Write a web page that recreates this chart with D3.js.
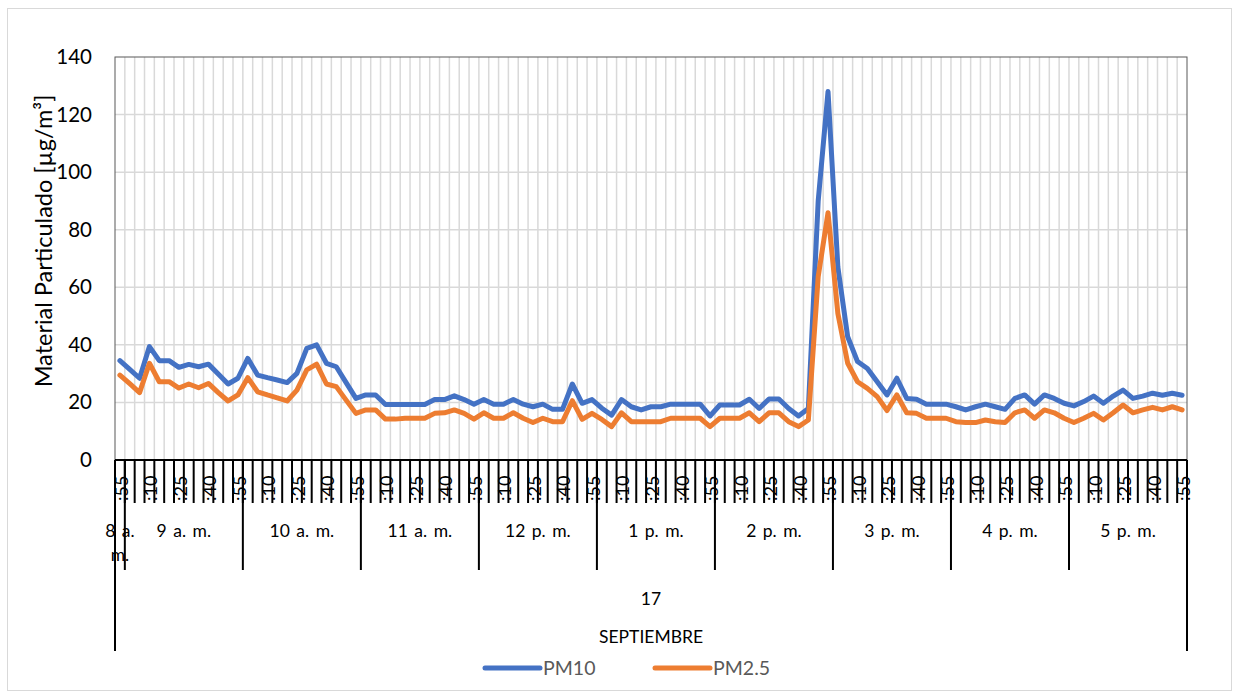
<!DOCTYPE html>
<html>
<head>
<meta charset="utf-8">
<script src="https://cdn.jsdelivr.net/npm/d3@7/dist/d3.min.js"></script>
<style>
  html, body { margin: 0; padding: 0; background: #fff; }
  svg { display: block; font-family: Lato, "Open Sans", sans-serif; }
</style>
</head>
<body>
<svg id="chart" width="1239" height="696"></svg>
<script>
// Hour groups of the category axis and how many 5-minute readings each holds
const hourLabels = ["8 a. m.", "9 a. m.", "10 a. m.", "11 a. m.", "12 p. m.", "1 p. m.", "2 p. m.", "3 p. m.", "4 p. m.", "5 p. m."];
const hourCounts = [1, 12, 12, 12, 12, 12, 12, 12, 12, 12];
const hourStartMinute = [55, 0, 0, 0, 0, 0, 0, 0, 0, 0];
const dayLabel = "17";
const monthLabel = "SEPTIEMBRE";
const yTicks = [0, 20, 40, 60, 80, 100, 120, 140];

// PM10 readings, µg/m³, 8:55 to 17:55
const pm10 = [
  34.5, 31.5, 28.4, 39.4, 34.5, 34.5, 32.2, 33.2, 32.4, 33.3, 29.9, 26.4, 28.4,
  35.3, 29.5, 28.6, 27.8, 26.9, 30.1, 38.8, 40.0, 33.6, 32.4, 26.9, 21.4,
  22.6, 22.6, 19.3, 19.3, 19.3, 19.3, 19.3, 21.0, 21.0, 22.3, 21.0, 19.4,
  21.0, 19.4, 19.4, 21.0, 19.4, 18.5, 19.4, 17.6, 17.6, 26.4, 19.7, 21.0,
  18.0, 15.6, 21.0, 18.5, 17.4, 18.5, 18.5, 19.4, 19.4, 19.4, 19.4, 15.3,
  19.1, 19.1, 19.1, 21.1, 17.9, 21.2, 21.2, 17.9, 15.3, 17.9, 90.0, 128.0,
  67.0, 42.8, 34.2, 31.8, 27.2, 22.6, 28.4, 21.4, 21.1, 19.4, 19.4, 19.4,
  18.5, 17.4, 18.5, 19.4, 18.5, 17.6, 21.4, 22.6, 19.4, 22.6, 21.4, 19.7,
  18.8, 20.3, 22.2, 19.7, 22.2, 24.3, 21.4, 22.2, 23.2, 22.5, 23.2, 22.5
];

// PM2.5 readings, µg/m³, 8:55 to 17:55
const pm25 = [
  29.5, 26.5, 23.4, 33.6, 27.2, 27.2, 25.0, 26.4, 25.1, 26.6, 23.4, 20.5, 22.6,
  28.6, 23.7, 22.6, 21.6, 20.5, 24.3, 31.3, 33.3, 26.4, 25.5, 20.8, 16.2,
  17.4, 17.4, 14.2, 14.2, 14.5, 14.5, 14.5, 16.2, 16.4, 17.4, 16.2, 14.2,
  16.4, 14.5, 14.5, 16.4, 14.5, 13.0, 14.5, 13.3, 13.3, 20.6, 14.1, 16.2,
  14.1, 11.6, 16.4, 13.3, 13.3, 13.3, 13.3, 14.5, 14.5, 14.5, 14.5, 11.6,
  14.5, 14.5, 14.5, 16.4, 13.3, 16.4, 16.4, 13.3, 11.6, 13.9, 63.7, 85.9,
  50.9, 33.6, 27.2, 24.9, 22.0, 17.2, 22.6, 16.4, 16.2, 14.5, 14.5, 14.5,
  13.3, 13.0, 13.0, 13.9, 13.3, 13.0, 16.4, 17.4, 14.5, 17.4, 16.4, 14.5,
  13.0, 14.5, 16.2, 13.9, 16.4, 19.1, 16.4, 17.4, 18.3, 17.4, 18.5, 17.4
];

// Build the category list (hour index + minute) from the hour groups
const categories = [];
hourCounts.forEach((n, h) => {
  for (let k = 0; k < n; k++) {
    categories.push({ id: categories.length, hour: h, minute: hourStartMinute[h] + 5 * k });
  }
});

const svg = d3.select("#chart");
const W = 1239, H = 696;
const plotLeft = 115, plotRight = 1187, plotTop = 57, plotBottom = 460;
const labelFont = 17.5;

// Chart area border
svg.append("rect")
  .attr("x", 7.5).attr("y", 8.5).attr("width", W - 15).attr("height", H - 14)
  .attr("fill", "#fff").attr("stroke", "#d9d9d9").attr("stroke-width", 1);

const x = d3.scaleBand().domain(categories.map(d => d.id)).range([plotLeft, plotRight]).padding(0);
const y = d3.scaleLinear().domain([0, 140]).range([plotBottom, plotTop]);
const bw = x.bandwidth();

// Gridlines
const grid = svg.append("g");
grid.selectAll("line.v").data(categories.slice(1)).join("line")
  .attr("x1", d => x(d.id)).attr("x2", d => x(d.id))
  .attr("y1", plotTop).attr("y2", plotBottom)
  .attr("stroke", "#d9d9d9").attr("stroke-width", 1.5);
grid.selectAll("line.h").data(yTicks.filter(t => t > 0 && t < 140)).join("line")
  .attr("x1", plotLeft).attr("x2", plotRight)
  .attr("y1", d => y(d)).attr("y2", d => y(d))
  .attr("stroke", "#d9d9d9").attr("stroke-width", 1.5);

// Plot area frame
svg.append("rect")
  .attr("x", plotLeft).attr("y", plotTop).attr("width", plotRight - plotLeft).attr("height", plotBottom - plotTop)
  .attr("fill", "none").attr("stroke", "#595959").attr("stroke-width", 1);

// Y axis
const yAxis = d3.axisLeft(y).tickValues(yTicks).tickSize(0).tickPadding(23);
const yg = svg.append("g").attr("transform", `translate(${plotLeft},0)`).call(yAxis);
yg.select(".domain").remove();
yg.selectAll("text").attr("font-family", "Lato, sans-serif").attr("font-size", 20.5).attr("fill", "#000");

svg.append("text")
  .attr("transform", `translate(52,241) rotate(-90)`)
  .attr("text-anchor", "middle")
  .attr("font-size", 23.5).attr("fill", "#000")
  .text("Material Particulado [µg/m³]");

// Multi-level category axis
const ax = svg.append("g");
ax.append("line").attr("x1", plotLeft).attr("x2", plotRight).attr("y1", plotBottom).attr("y2", plotBottom)
  .attr("stroke", "#000").attr("stroke-width", 2);

// minute level: a tick at every category boundary
ax.selectAll("line.mt").data(categories.slice(1)).join("line")
  .attr("x1", d => x(d.id)).attr("x2", d => x(d.id))
  .attr("y1", plotBottom).attr("y2", 503)
  .attr("stroke", "#000").attr("stroke-width", 2);

// minute labels on every third reading
ax.selectAll("text.mt").data(categories.filter(d => d.id % 3 === 0)).join("text")
  .attr("transform", d => `translate(${x(d.id) + bw / 2 + 1},501) rotate(-90)`)
  .attr("text-anchor", "start").attr("dominant-baseline", "central")
  .attr("font-size", 18).attr("fill", "#000")
  .text(d => ":" + d.minute);

// hour level
const hourSpans = [];
let acc = 0;
hourCounts.forEach((n, h) => { hourSpans.push({ h, start: acc, end: acc + n }); acc += n; });
const edge = i => (i >= categories.length ? plotRight : x(i));

ax.selectAll("line.hr").data(hourSpans.slice(1)).join("line")
  .attr("x1", d => edge(d.start)).attr("x2", d => edge(d.start))
  .attr("y1", plotBottom).attr("y2", 570)
  .attr("stroke", "#000").attr("stroke-width", 2);

hourSpans.forEach(s => {
  const cx = (edge(s.start) + edge(s.end)) / 2;
  const label = hourLabels[s.h];
  if (s.end - s.start === 1) {
    // too narrow for one line: wrap like the spreadsheet does
    const parts = [label.replace(/ m\.$/, ""), "m."];
    parts.forEach((p, k) => {
      ax.append("text").attr("x", cx).attr("y", 537 + k * 24)
        .attr("text-anchor", "middle").attr("font-size", labelFont).attr("word-spacing", 2)
        .attr("fill", "#000").text(p);
    });
  } else {
    ax.append("text").attr("x", cx).attr("y", 537)
      .attr("text-anchor", "middle").attr("font-size", labelFont).attr("word-spacing", 2)
      .attr("fill", "#000").text(label);
  }
});

// day and month levels
[plotLeft, plotRight].forEach(px => {
  ax.append("line").attr("x1", px).attr("x2", px).attr("y1", plotBottom).attr("y2", 651)
    .attr("stroke", "#000").attr("stroke-width", 2);
});
ax.append("text").attr("x", (plotLeft + plotRight) / 2).attr("y", 605)
  .attr("text-anchor", "middle").attr("font-size", labelFont).attr("fill", "#000").text(dayLabel);
ax.append("text").attr("x", (plotLeft + plotRight) / 2).attr("y", 643)
  .attr("text-anchor", "middle").attr("font-size", labelFont).attr("fill", "#000").text(monthLabel);

// Series lines
const series = [
  { name: "PM10", values: pm10, color: "#4472C4" },
  { name: "PM2.5", values: pm25, color: "#ED7D31" }
];
const line = d3.line()
  .x((v, i) => x(i) + bw / 2)
  .y(v => y(v));

svg.selectAll("path.series").data(series).join("path")
  .attr("class", "series")
  .attr("d", d => line(d.values))
  .attr("fill", "none").attr("stroke", d => d.color)
  .attr("stroke-width", 5).attr("stroke-linejoin", "round").attr("stroke-linecap", "round");

// Legend
const lg = svg.append("g");
const legendX = [485, 655];
series.forEach((s, k) => {
  lg.append("line").attr("x1", legendX[k]).attr("x2", legendX[k] + 55)
    .attr("y1", 668).attr("y2", 668)
    .attr("stroke", s.color).attr("stroke-width", 5).attr("stroke-linecap", "round");
  lg.append("text").attr("x", legendX[k] + 58).attr("y", 675)
    .attr("font-size", 19.5).attr("fill", "#595959").text(s.name);
});
</script>
</body>
</html>
